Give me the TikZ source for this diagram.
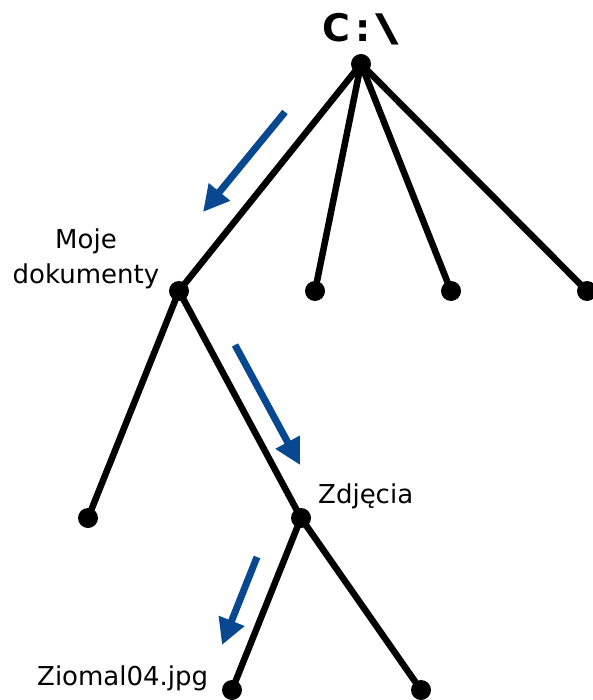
\documentclass[tikz,border=0pt]{standalone}
\usepackage{fontspec}
\setmainfont{DejaVu Sans}
\usetikzlibrary{arrows.meta}
\definecolor{arrowblue}{RGB}{8,72,145}
\begin{document}
\begin{tikzpicture}[x=1pt,y=-1pt,
  dot/.style={circle,fill=black,inner sep=0pt,minimum size=20pt},
  branch/.style={line width=6.5pt,black},
  hint/.style={line width=7pt,arrowblue,-{Triangle[length=26pt,width=26pt]}},
  lbl/.style={font=\fontsize{26}{35}\selectfont,inner sep=0pt}]
\useasboundingbox (0,0) rectangle (593,700);
% tree vertices
\node[dot] (root) at (361,64) {};
\node[dot] (docs) at (179,291) {};
\node[dot] (r2) at (315,291) {};
\node[dot] (r3) at (451,291) {};
\node[dot] (r4) at (587,291) {};
\node[dot] (d1) at (88,518) {};
\node[dot] (pics) at (301,518) {};
\node[dot] (file) at (232,690) {};
\node[dot] (p2) at (421,690) {};
% branches
\draw[branch] (root.center) -- (docs.center);
\draw[branch] (root.center) -- (r2.center);
\draw[branch] (root.center) -- (r3.center);
\draw[branch] (root.center) -- (r4.center);
\draw[branch] (docs.center) -- (d1.center);
\draw[branch] (docs.center) -- (pics.center);
\draw[branch] (pics.center) -- (file.center);
\draw[branch] (pics.center) -- (p2.center);
% labels
\node[inner sep=0pt,anchor=base,font=\fontsize{38}{40}\selectfont\bfseries] (drive) at (361,42) {C\hspace{5pt}:\hspace{5pt}\scalebox{1.7}[1]{\textbackslash}};
\node[lbl,anchor=base,align=center] (docslbl) at (86,283) {Moje\\dokumenty};
\node[lbl,anchor=base west] (picslbl) at (318,503) {Zdjęcia};
\node[lbl,anchor=base west] (filelbl) at (37,685) {Ziomal04.jpg};
% path hints
\coordinate (a1s) at (285,112); \coordinate (a1e) at (203,212);
\coordinate (a2s) at (235,345); \coordinate (a2e) at (300,465);
\coordinate (a3s) at (257,557); \coordinate (a3e) at (222,645);
\draw[hint] (a1s) -- (a1e);
\draw[hint] (a2s) -- (a2e);
\draw[hint] (a3s) -- (a3e);
\end{tikzpicture}
\end{document}
